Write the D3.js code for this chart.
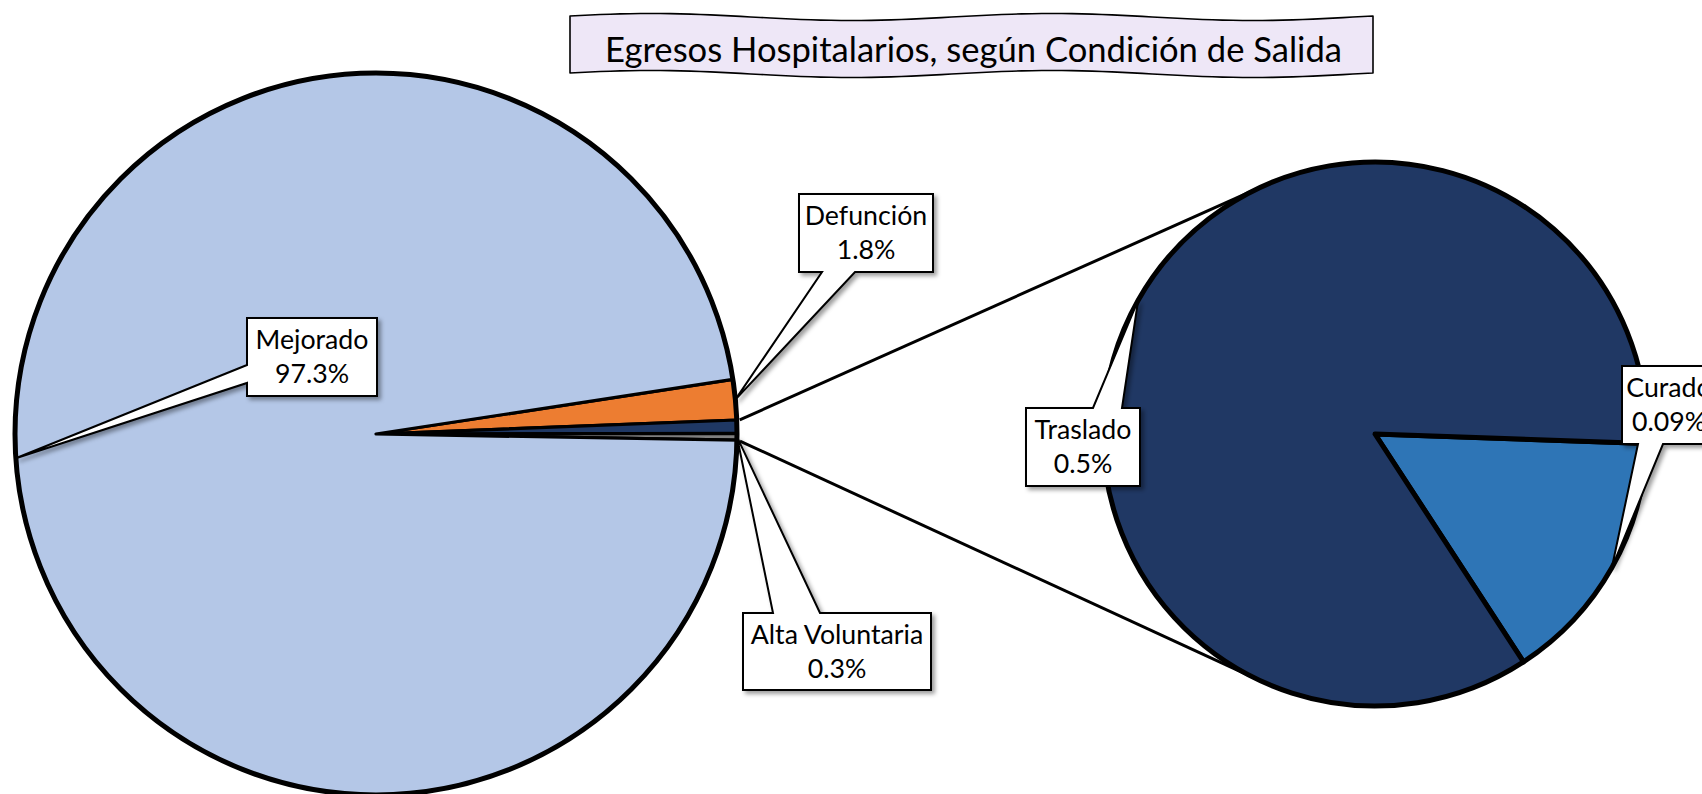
<!DOCTYPE html>
<html><head><meta charset="utf-8">
<script src="https://cdn.jsdelivr.net/npm/d3@7"></script>
<style>html,body{margin:0;padding:0;background:#fff;overflow:hidden}</style>
</head><body>
<svg id="chart" width="1702" height="794"></svg>
<script>
// ---------- DATA ----------
const chartTitle = "Egresos Hospitalarios, según Condición de Salida";
const mainCategories = ["Defunción", "Alta Voluntaria", "Mejorado"];
const mainValues = [1.8, 0.3, 97.3];
const subCategories = ["Curado", "Traslado"];
const subValues = [0.09, 0.5];
const otherName = "Otros";

// ---------- STYLE / LAYOUT ----------
const colors = {
  "Defunción": "#ED7D31", "Otros": "#1F3864", "Alta Voluntaria": "#7F7F7F",
  "Mejorado": "#B4C7E7", "Curado": "#2E75B6", "Traslado": "#203864"
};
const mainPie = {cx: 376, cy: 434, r: 361, start: 81.3};
const subPie = {cx: 1375, cy: 434, r: 272, start: 92};
const labelLayout = {
  "Mejorado":        {x: 247,  y: 318, w: 130, h: 78, side: "left",   b0: 47, b1: 65, tx: 0},
  "Defunción":       {x: 799,  y: 194, w: 134, h: 78, side: "bottom", b0: 23, b1: 56, tx: 0},
  "Alta Voluntaria": {x: 743,  y: 613, w: 188, h: 77, side: "top",    b0: 30, b1: 77, tx: 0},
  "Traslado":        {x: 1026, y: 408, w: 114, h: 78, side: "top",    b0: 67, b1: 96, tx: 0},
  "Curado":          {x: 1622, y: 366, w: 118, h: 78, side: "bottom", b0: 16, b1: 41, tx: -12}
};
const FONT = "Lato, 'Open Sans', sans-serif";

const svg = d3.select("#chart");
const defs = svg.append("defs");
const f = defs.append("filter").attr("id", "shadow").attr("x", "-20%").attr("y", "-20%").attr("width", "150%").attr("height", "150%");
f.append("feDropShadow").attr("dx", 3).attr("dy", 3).attr("stdDeviation", 2.2)
  .attr("flood-color", "#000").attr("flood-opacity", 0.38);

const rad = d => d * Math.PI / 180;

// ---------- MAIN PIE ----------
const mainData = [
  {name: mainCategories[0], value: mainValues[0]},
  {name: otherName, value: d3.sum(subValues)},
  {name: mainCategories[1], value: mainValues[1]},
  {name: mainCategories[2], value: mainValues[2]}
];
const mainArcs = d3.pie().sort(null).value(d => d.value)
  .startAngle(rad(mainPie.start)).endAngle(rad(mainPie.start) + 2 * Math.PI)(mainData);
const mainArcGen = d3.arc().innerRadius(0).outerRadius(mainPie.r);
const gMain = svg.append("g").attr("transform", `translate(${mainPie.cx},${mainPie.cy})`);
gMain.selectAll("path.slice").data(mainArcs).join("path").attr("class", "slice")
  .attr("d", mainArcGen)
  .attr("fill", d => colors[d.data.name])
  .attr("stroke", "#000").attr("stroke-width", 3.2).attr("stroke-linejoin", "round");
gMain.append("circle").attr("r", mainPie.r).attr("fill", "none").attr("stroke", "#000").attr("stroke-width", 5);

// ---------- SUB PIE ----------
const subData = subCategories.map((c, i) => ({name: c, value: subValues[i]}));
const subArcs = d3.pie().sort(null).value(d => d.value)
  .startAngle(rad(subPie.start)).endAngle(rad(subPie.start) + 2 * Math.PI)(subData);
const subArcGen = d3.arc().innerRadius(0).outerRadius(subPie.r);
const gSub = svg.append("g").attr("transform", `translate(${subPie.cx},${subPie.cy})`);
gSub.selectAll("path").data(subArcs).join("path")
  .attr("d", subArcGen)
  .attr("fill", d => colors[d.data.name])
  .attr("stroke", "#000").attr("stroke-width", 5).attr("stroke-linejoin", "round");

// ---------- CONNECTORS (tangent lines from "Otros" slice corners) ----------
const polar = (pie, a, r) => [pie.cx + r * Math.sin(a), pie.cy - r * Math.cos(a)];
const otherArc = mainArcs.find(d => d.data.name === otherName);
function tangent(P, upper) {
  const dx = P[0] - subPie.cx, dy = P[1] - subPie.cy;
  const d = Math.hypot(dx, dy);
  const phi = Math.atan2(dy, dx);
  const t = Math.acos(subPie.r / d);
  const c1 = [subPie.cx + subPie.r * Math.cos(phi + t), subPie.cy + subPie.r * Math.sin(phi + t)];
  const c2 = [subPie.cx + subPie.r * Math.cos(phi - t), subPie.cy + subPie.r * Math.sin(phi - t)];
  return upper ? (c1[1] < c2[1] ? c1 : c2) : (c1[1] > c2[1] ? c1 : c2);
}
const P1 = polar(mainPie, otherArc.startAngle, mainPie.r + 3);
const P2 = polar(mainPie, otherArc.endAngle + rad(1.2), mainPie.r + 3);
const conn = [[P1, tangent(P1, true)], [P2, tangent(P2, false)]];
svg.append("g").selectAll("line").data(conn).join("line")
  .attr("x1", d => d[0][0]).attr("y1", d => d[0][1])
  .attr("x2", d => d[1][0]).attr("y2", d => d[1][1])
  .attr("stroke", "#000").attr("stroke-width", 3);

// ---------- TITLE (wave box) ----------
const tb = {x0: 570, x1: 1373, top: 17, bot: 74, amp: 3.5};
const N = 80;
const xs = d3.range(N + 1).map(i => tb.x0 + (tb.x1 - tb.x0) * i / N);
const wave = t => tb.amp * Math.sin(2 * Math.PI * 2 * t + 0.3);
let pts = xs.map((x, i) => [x, tb.top - wave(i / N)]);
pts = pts.concat(xs.slice().reverse().map((x, j) => [x, tb.bot - wave((N - j) / N)]));
svg.append("path").attr("d", d3.line()(pts) + "Z")
  .attr("fill", "#EEE7F7").attr("stroke", "#000").attr("stroke-width", 1.6).attr("stroke-linejoin", "round");
const titleText = svg.append("text").text(chartTitle)
  .attr("x", (tb.x0 + tb.x1) / 2 + 2).attr("y", 62)
  .attr("text-anchor", "middle").attr("font-family", FONT).attr("font-size", 100).attr("fill", "#000");
const tw = titleText.node().getComputedTextLength();
titleText.attr("font-size", 100 * 737 / tw);

// ---------- LABELS ----------
const probe = svg.append("text").text("Mejorado").attr("font-family", FONT).attr("font-size", 100);
const labelSize = 100 * 113 / probe.node().getComputedTextLength();
probe.remove();

const labelItems = [];
mainArcs.forEach(a => { if (a.data.name !== otherName) labelItems.push({pie: mainPie, arc: a}); });
subArcs.forEach(a => labelItems.push({pie: subPie, arc: a}));

function calloutPath(L, tip) {
  const {x, y, w, h, side, b0, b1} = L;
  const T = `L${tip[0]},${tip[1]}`;
  if (side === "top")
    return `M${x},${y}L${x + b0},${y}${T}L${x + b1},${y}L${x + w},${y}L${x + w},${y + h}L${x},${y + h}Z`;
  if (side === "bottom")
    return `M${x},${y}L${x + w},${y}L${x + w},${y + h}L${x + b1},${y + h}${T}L${x + b0},${y + h}L${x},${y + h}Z`;
  return `M${x},${y}L${x + w},${y}L${x + w},${y + h}L${x},${y + h}L${x},${y + b1}${T}L${x},${y + b0}Z`;
}

const gLab = svg.append("g");
labelItems.forEach(({pie, arc}) => {
  const name = arc.data.name;
  const L = labelLayout[name];
  const mid = (arc.startAngle + arc.endAngle) / 2;
  const tip = polar(pie, mid, pie.r);
  const g = gLab.append("g");
  g.append("path").attr("d", calloutPath(L, tip))
    .attr("fill", "#fff").attr("stroke", "#000").attr("stroke-width", 2)
    .attr("stroke-linejoin", "miter").attr("filter", "url(#shadow)");
  const cx = L.x + L.w / 2 + L.tx;
  g.append("text").text(name).attr("x", cx).attr("y", L.y + 31)
    .attr("text-anchor", "middle").attr("font-family", FONT).attr("font-size", labelSize).attr("fill", "#000");
  g.append("text").text(arc.data.value + "%").attr("x", cx).attr("y", L.y + 65)
    .attr("text-anchor", "middle").attr("font-family", FONT).attr("font-size", labelSize).attr("fill", "#000");
});
</script>
</body></html>
